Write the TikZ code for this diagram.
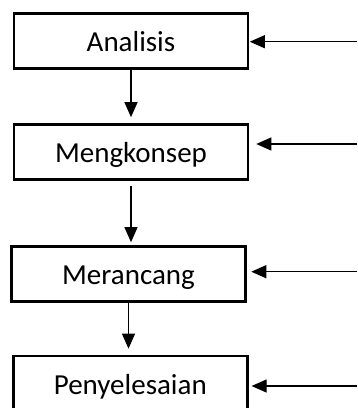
\documentclass[tikz,border=0pt]{standalone}
\usepackage{fontspec}
\setmainfont{Carlito}
\usetikzlibrary{arrows.meta}
\begin{document}
\begin{tikzpicture}[x=1pt,y=-1pt,
  stepbox/.style={draw=black,line width=2.6pt,minimum width=234pt,minimum height=55pt,inner sep=0pt,text height=28.9pt,text depth=7.3pt,font=\fontsize{29}{34}\selectfont},
  flow/.style={draw=black,line width=1.2pt,-{Triangle[length=15pt,width=13pt]}}]
\clip (0,0) rectangle (357,408);
\path[fill=white] (0,0) rectangle (357,408);
\node[stepbox] (analisis) at (131,41) {Analisis};
\node[stepbox] (mengkonsep) at (131,152) {Mengkonsep};
\node[stepbox] (merancang) at (128.5,274) {Merancang};
\node[stepbox] (penyelesaian) at (130.3,383.5) {Penyelesaian};
\coordinate (in1) at (357,41.7);
\coordinate (in2) at (357,144);
\coordinate (in3) at (357,271.7);
\coordinate (in4) at (357,386);
% alur turun
\draw[flow,shorten >=6pt] (analisis.south) -- (analisis.south |- mengkonsep.north);
\draw[flow,shorten <=5pt,shorten >=3pt] (mengkonsep.south) -- (mengkonsep.south |- merancang.north);
\draw[flow,shorten >=6pt] (merancang.south) -- (merancang.south |- penyelesaian.north);
% masukan dari kanan
\draw[flow,shorten >=0.5pt] (in1) -- (analisis.east |- in1);
\draw[flow,shorten >=7pt] (in2) -- (mengkonsep.east |- in2);
\draw[flow,shorten >=4.5pt] (in3) -- (merancang.east |- in3);
\draw[flow,shorten >=3pt] (in4) -- (penyelesaian.east |- in4);
\end{tikzpicture}
\end{document}
